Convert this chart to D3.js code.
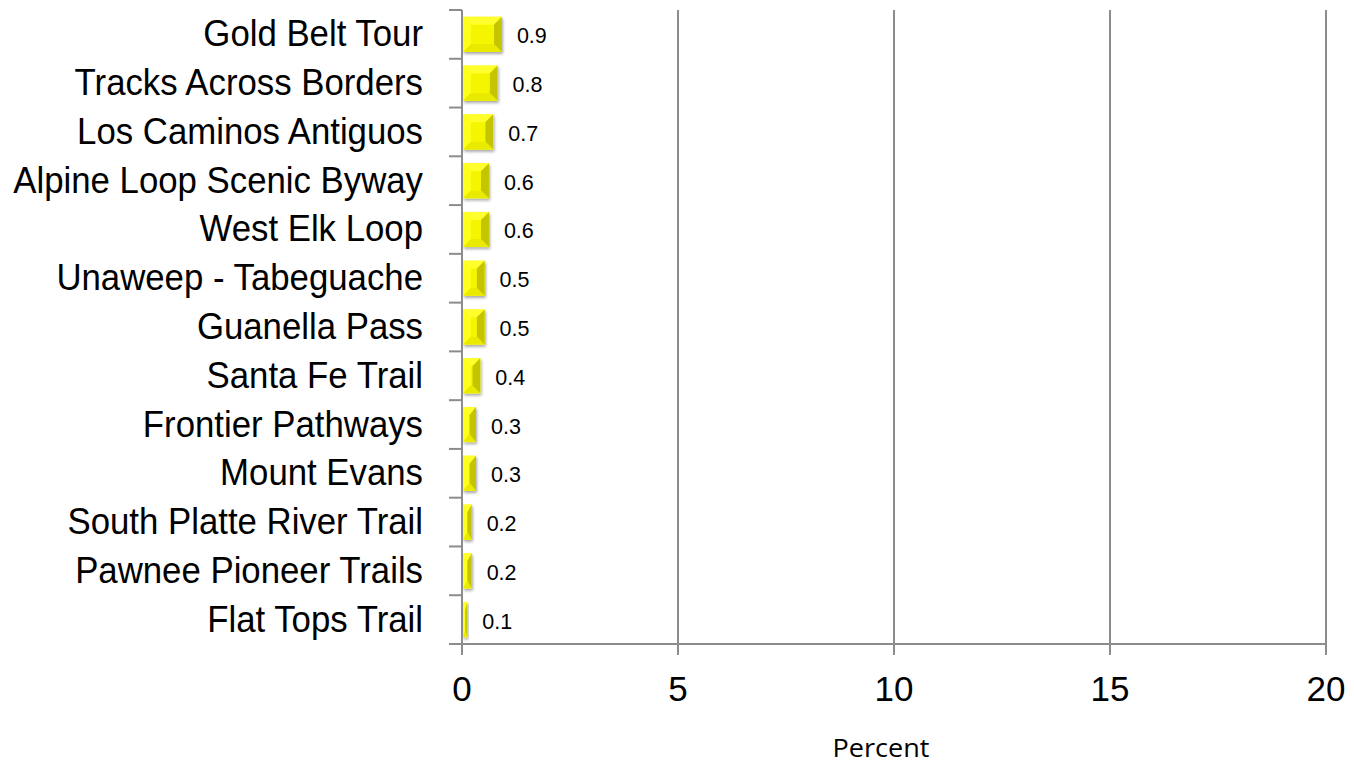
<!DOCTYPE html>
<html><head><meta charset="utf-8">
<script src="https://cdn.jsdelivr.net/npm/d3@7"></script>
<style>body{margin:0;background:#fff}</style>
</head><body>
<svg id="c" width="1354" height="764"></svg>
<script>
const categories = ["Gold Belt Tour","Tracks Across Borders","Los Caminos Antiguos","Alpine Loop Scenic Byway","West Elk Loop","Unaweep - Tabeguache","Guanella Pass","Santa Fe Trail","Frontier Pathways","Mount Evans","South Platte River Trail","Pawnee Pioneer Trails","Flat Tops Trail"];
const values = [0.9,0.8,0.7,0.6,0.6,0.5,0.5,0.4,0.3,0.3,0.2,0.2,0.1];
const xTicks = [0,5,10,15,20];
const xTitle = "Percent";

const svg = d3.select("#c");
const pLeft = 462, pRight = 1326, pTop = 10, pBottom = 644;
const x = d3.scaleLinear().domain([0,20]).range([pLeft,pRight]);
const y = d3.scaleBand().domain(categories).range([pTop,pBottom]).paddingInner(0.28).paddingOuter(0.14);
const grid = "#8c8c8c";

svg.append("g").selectAll("line").data(xTicks.slice(1)).join("line")
  .attr("x1",d=>x(d)).attr("x2",d=>x(d)).attr("y1",pTop).attr("y2",pBottom)
  .attr("stroke",grid).attr("stroke-width",2);

const defs = svg.append("defs");
const f = defs.append("filter").attr("id","sh").attr("x","-20%").attr("y","-20%").attr("width","150%").attr("height","160%");
f.append("feGaussianBlur").attr("in","SourceAlpha").attr("stdDeviation",1.5).attr("result","b");
f.append("feOffset").attr("in","b").attr("dx",1).attr("dy",2).attr("result","o");
f.append("feComponentTransfer").attr("in","o").attr("result","o2").append("feFuncA").attr("type","linear").attr("slope",0.35);
const m = f.append("feMerge"); m.append("feMergeNode").attr("in","o2"); m.append("feMergeNode").attr("in","SourceGraphic");

const bars = svg.append("g").selectAll("g").data(categories).join("g").attr("filter","url(#sh)");
bars.each(function(c,i){
  const g = d3.select(this);
  const x0 = x(0)+1, x1 = x(values[i])+1, y0 = y(c), h = y.bandwidth(), y1 = y0+h;
  const w = x1-x0;
  const b = Math.min(8, w/2);
  const bh = Math.min(8, h/2);
  g.append("rect").attr("x",x0).attr("y",y0).attr("width",w).attr("height",h).attr("fill","#ffff00");
  g.append("polygon").attr("points",[[x0,y0],[x1,y0],[x1-b,y0+bh],[x0+b,y0+bh]].join(" ")).attr("fill","#ffff2e");
  g.append("polygon").attr("points",[[x0,y0],[x0+b,y0+bh],[x0+b,y1-bh],[x0,y1]].join(" ")).attr("fill","#ffff1a");
  g.append("polygon").attr("points",[[x0,y1],[x0+b,y1-bh],[x1-b,y1-bh],[x1,y1]].join(" ")).attr("fill","#eaea00");
  g.append("polygon").attr("points",[[x1,y0],[x1-b,y0+bh],[x1-b,y1-bh],[x1,y1]].join(" ")).attr("fill","#c4c400");
  g.append("rect").attr("x",x0+b).attr("y",y0+bh).attr("width",Math.max(0,w-2*b)).attr("height",h-2*bh).attr("fill","#f5f500");
});

svg.append("g").selectAll("text").data(categories).join("text")
  .attr("x",(c,i)=>x(values[i])+16).attr("y",c=>y(c)+y.bandwidth()/2+9)
  .attr("font-family","Liberation Sans, Arial, sans-serif").attr("font-size",21.5).attr("fill","#000")
  .text((c,i)=>values[i]);

const bounds = d3.range(categories.length+1).map(i=> pTop + i*(pBottom-pTop)/categories.length);
svg.append("line").attr("x1",pLeft).attr("x2",pLeft).attr("y1",pTop).attr("y2",pBottom+11).attr("stroke",grid).attr("stroke-width",2);
svg.append("g").selectAll("line").data(bounds).join("line")
  .attr("x1",pLeft-13).attr("x2",pLeft).attr("y1",d=>d).attr("y2",d=>d).attr("stroke",grid).attr("stroke-width",2);
svg.append("line").attr("x1",pLeft-13).attr("x2",pRight).attr("y1",pBottom).attr("y2",pBottom).attr("stroke",grid).attr("stroke-width",2);
svg.append("g").selectAll("line").data(xTicks).join("line")
  .attr("x1",d=>x(d)).attr("x2",d=>x(d)).attr("y1",pBottom).attr("y2",pBottom+11).attr("stroke",grid).attr("stroke-width",2);

const sx = 0.94;
svg.append("g").selectAll("text").data(categories).join("text")
  .attr("transform",c=>`translate(423,${y(c)+y.bandwidth()/2+12}) scale(${sx},1)`)
  .attr("text-anchor","end")
  .attr("font-family","Liberation Sans, Arial, sans-serif").attr("font-size",37).attr("fill","#000")
  .text(d=>d);

svg.append("g").selectAll("text").data(xTicks).join("text")
  .attr("x",d=>x(d)).attr("y",701).attr("text-anchor","middle")
  .attr("font-family","Liberation Sans, Arial, sans-serif").attr("font-size",35).attr("fill","#000")
  .text(d=>d);

svg.append("text").attr("x",881).attr("y",757).attr("text-anchor","middle")
  .attr("font-family","Open Sans, Lato, sans-serif").attr("font-size",25.5)
  .attr("textLength",97).attr("lengthAdjust","spacingAndGlyphs").attr("fill","#000")
  .text(xTitle);
</script>
</body></html>
